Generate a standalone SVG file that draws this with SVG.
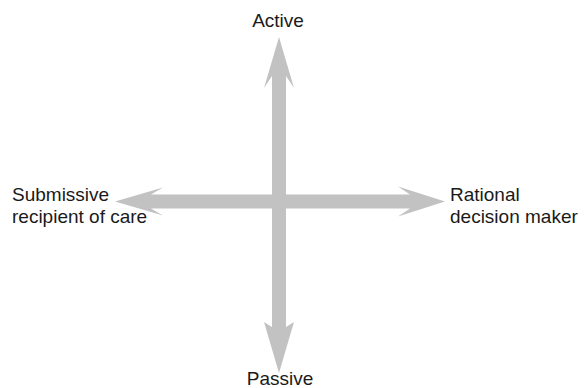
<svg xmlns="http://www.w3.org/2000/svg" width="585" height="388" viewBox="0 0 585 388">
<style>
.lbl{font-family:"Liberation Sans",Arial,sans-serif;font-size:19px;fill:#1a1a1a}
.arr{fill:#c2c2c2;stroke:none}
</style>
<rect width="585" height="388" fill="#ffffff"/>
<g id="connectors">
<path class="arr" d="M272,76 L264,88 L279,37 L294,88 L286,76 L286,194.5 L410,194.5 L398,186.5 L445,201.5 L398,216.5 L410,208.5 L286,208.5 L286,327 L294,322 L279,373 L264,322 L272,327 L272,208.5 L151,208.5 L163,215.5 L115,201.5 L163,187.5 L151,194.5 L272,194.5 Z"/>
</g>
<g id="node-active"><text class="lbl" x="278" y="27" text-anchor="middle">Active</text></g>
<g id="node-passive"><text class="lbl" x="280" y="385" text-anchor="middle">Passive</text></g>
<g id="node-submissive"><text class="lbl" x="12" y="201">Submissive</text><text class="lbl" x="12" y="223">recipient of care</text></g>
<g id="node-rational"><text class="lbl" x="450" y="201">Rational</text><text class="lbl" x="450" y="223">decision maker</text></g>
</svg>
